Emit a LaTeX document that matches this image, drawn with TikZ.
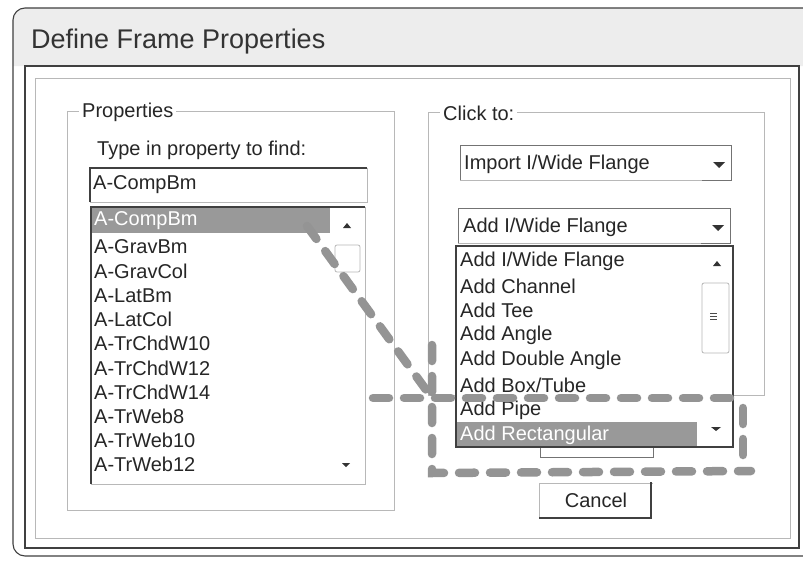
\documentclass[tikz,border=0pt]{standalone}
\usepackage{fontspec}
\setmainfont{Liberation Sans}
\begin{document}
\begin{tikzpicture}[x=1pt,y=-1pt,
  ui/.style={font=\fontsize{20}{24}\selectfont, text=black!85, inner sep=0pt, anchor=west},
  selui/.style={ui, text=white},
  grouplabel/.style={ui, fill=white, inner xsep=3pt, inner ysep=1pt},
  hl/.style={fill=black!40},
  darkline/.style={draw=black!75, line width=1.1pt},
  midline/.style={draw=black!55, line width=0.9pt},
  lightline/.style={draw=black!28, line width=0.8pt},
  penline/.style={draw=black!42, line width=8.5pt, dash pattern=on 16pt off 15pt, line cap=round},
  arrowfill/.style={fill=black!80}
]
\useasboundingbox (0,0) rectangle (803,562);
\fill[white] (0,0) rectangle (803,562);
% window
\fill[black!7] (803,8) [rounded corners=12pt] -- (13,8) [sharp corners] -- (13,66) -- (803,66) -- cycle;
\draw[darkline, rounded corners=12pt] (803,8) -- (13,8) -- (13,556) -- (803,556);
\node[ui, font=\fontsize{27}{32}\selectfont, text=black!80] (title) at (31,42) {Define Frame Properties};
% panel
\draw[darkline] (25,66) rectangle (799,548);
\draw[lightline] (35,78) rectangle (790,538);
% Properties group
\draw[lightline] (67,111) rectangle (394,510);
\node[grouplabel] (propsLabel) at (79,112) {Properties};
\node[ui] (typeLabel) at (97,150) {Type in property to find:};
% search box
\draw[lightline] (90,168) rectangle (367,202);
\draw[darkline] (90,202) -- (90,168) -- (367,168);
\node[ui] (searchText) at (93,185) {A-CompBm};
% list box
\draw[lightline] (91,207) rectangle (365,484);
\draw[darkline] (91,484) -- (91,207) -- (365,207);
\fill[hl] (92,208) rectangle (330,233);
\node[selui] (selA) at (94,221) {A-CompBm};
\foreach \t [count=\i] in {A-GravBm,A-GravCol,A-LatBm,A-LatCol,A-TrChdW10,A-TrChdW12,A-TrChdW14,A-TrWeb8,A-TrWeb10,A-TrWeb12}
  \node[ui] (prop\i) at (94,{247+24.2*(\i-1)}) {\t};
% list scrollbar
\fill[arrowfill] (343,228) -- (351,228) -- (347,223) -- cycle;
\draw[lightline, rounded corners=2pt] (335,245) rectangle (360,272);
\fill[arrowfill] (342,463) -- (350,463) -- (346,467) -- cycle;
% Click to group
\draw[lightline] (428,112) rectangle (764,395);
\node[grouplabel] (clickLabel) at (440,113) {Click to:};
% Import dropdown
\draw[lightline] (460,145) rectangle (731,180);
\draw[midline] (460,180) -- (460,145) -- (731,145) -- (731,180) -- (702,180);
\node[ui] (importText) at (464,164) {Import I/Wide Flange};
\fill[arrowfill] (713,162) -- (725,162) -- (719,168) -- cycle;
% Add dropdown
\draw[lightline] (458,208) rectangle (730,243);
\draw[midline] (458,243) -- (458,208) -- (730,208) -- (730,243) -- (701,243);
\node[ui] (addText) at (463,227) {Add I/Wide Flange};
\fill[arrowfill] (712,225) -- (724,225) -- (718,231) -- cycle;
% hidden button behind list
\draw[midline] (540,447) -- (540,457) -- (653,457) -- (653,447);
% dropdown list
\fill[white] (456,246) rectangle (733,447);
\fill[hl] (457,422) rectangle (697,447);
\draw[darkline] (456,246) rectangle (733,447);
\foreach \t [count=\i] in {Add I/Wide Flange,Add Channel,Add Tee,Add Angle,Add Double Angle,Add Box/Tube,Add Pipe}
  \node[ui] (add\i) at (460,{261+24.9*(\i-1)}) {\t};
\node[selui] (addRect) at (460,435) {Add Rectangular};
\fill[arrowfill] (713,266) -- (721,266) -- (717,261) -- cycle;
\draw[lightline, rounded corners=2pt] (702,283) rectangle (729,353);
\foreach \d in {0,3,6} \draw[black!70, line width=0.9pt] (710,{313+\d}) -- (717,{313+\d});
\fill[arrowfill] (711,427) -- (721,427) -- (716,431) -- cycle;
% Cancel button
\draw[lightline] (653,483) -- (539,483) -- (539,518);
\draw[darkline] (539,518) -- (651,518) -- (651,482);
\node[ui, anchor=center] (cancel) at (596,500) {Cancel};
% hand-drawn dashed marks
\coordinate (penstart) at (307,226);
\coordinate (cross) at (432,398);
\coordinate (hleft) at (373,398);
\coordinate (hright) at (736,398);
\coordinate (vtop) at (432,345);
\coordinate (bl) at (432,473);
\coordinate (br) at (751,471);
\coordinate (rtop) at (743,408);
\coordinate (rbot) at (743,470);
\draw[penline] (penstart) -- (cross);
\draw[penline] (hleft) -- (hright);
\draw[penline] (vtop) -- (bl) -- (br);
\draw[penline] (rtop) -- (rbot);
\end{tikzpicture}
\end{document}
